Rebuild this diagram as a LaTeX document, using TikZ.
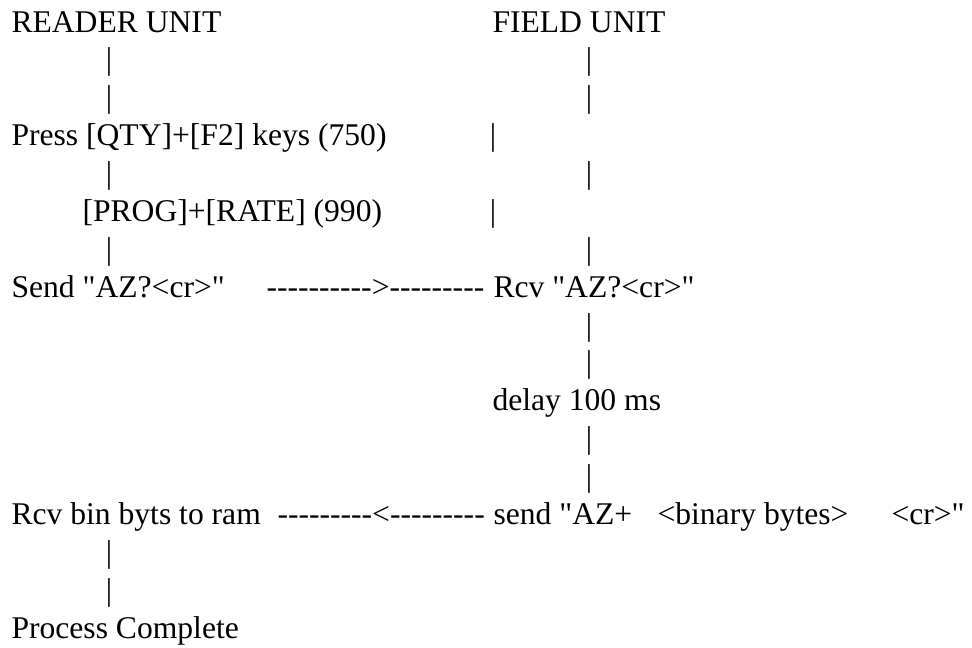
\documentclass[tikz,border=0pt]{standalone}
\usepackage{fontspec}
\setmainfont{Liberation Serif}[Ligatures=TeXOff]
\usepackage{tikz}

\begin{document}
\begin{tikzpicture}[x=0.3797pt,y=-0.3797pt,
   every node/.style={inner sep=0pt,font=\fontsize{12pt}{14pt}\selectfont},
   txt/.style={anchor=base west},
   bar/.style={anchor=base}]
   \useasboundingbox (0,0) rectangle (972,647);
   \node[txt] (reader) at (11,32) {READER UNIT};
   \node[txt] (field)  at (492,32) {FIELD UNIT};
   \node[bar] (r1) at (109,69.9) {|};
   \node[bar] (f1) at (589,69.9) {|};
   \node[bar] (r2) at (109,107.8) {|};
   \node[bar] (f2) at (589,107.8) {|};
   \node[txt] (press) at (11,145.6) {Press [QTY]+[F2] keys (750)};
   \node[bar] (m1) at (493,145.6) {|};
   \node[bar] (r3) at (109,183.5) {|};
   \node[bar] (f3) at (589,183.5) {|};
   \node[txt] (prog) at (82,221.4) {[PROG]+[RATE] (990)};
   \node[bar] (m2) at (493,221.4) {|};
   \node[bar] (r4) at (109,259.3) {|};
   \node[bar] (f4) at (589,259.3) {|};
   \node[txt] (send) at (11,297.1) {Send "AZ?<cr>"};
   \node[txt] (req) at (266,297.1) {---------->---------};
   \node[txt] (rcv) at (493,297.1) {Rcv "AZ?<cr>"};
   \node[bar] (f5) at (589,335) {|};
   \node[bar] (f6) at (589,372.9) {|};
   \node[txt] (delay) at (492,410.8) {delay 100 ms};
   \node[bar] (f7) at (589,448.6) {|};
   \node[bar] (f8) at (589,486.5) {|};
   \node[txt] (rcvbin) at (11,524.4) {Rcv bin byts to ram};
   \node[txt] (resp) at (277,524.4) {---------<---------};
   \node[txt] (reply) at (493,524.4) {send "AZ+};
   \node[txt] (bytes) at (657,524.4) {<binary bytes>};
   \node[txt] (cr) at (891,524.4) {<cr>"};
   \node[bar] (r5) at (109,562.3) {|};
   \node[bar] (r6) at (109,600.1) {|};
   \node[txt] (done) at (11,638) {Process Complete};
\end{tikzpicture}
\end{document}
